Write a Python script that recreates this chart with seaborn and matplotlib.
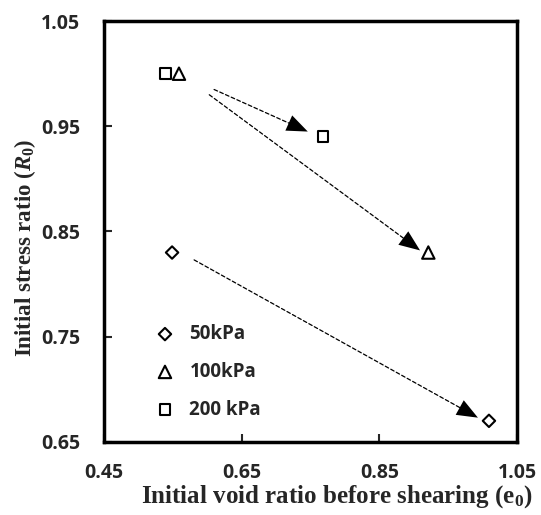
import matplotlib
matplotlib.use('Agg')
import matplotlib.pyplot as plt
import pandas as pd
import seaborn as sns

# e0 / R0 for each confining pressure (first point = before, second = after)
e_50 = [0.549, 1.009]
R_50 = [0.83, 0.67]
e_100 = [0.559, 0.921]
R_100 = [1.00, 0.83]
e_200 = [0.539, 0.768]
R_200 = [1.00, 0.94]

labels = ['50kPa', '100kPa', '200 kPa']

# dashed trend arrows
arrow_start_e = [0.610, 0.603, 0.581]
arrow_start_R = [0.985, 0.980, 0.823]
arrow_end_e = [0.746, 0.909, 0.993]
arrow_end_R = [0.945, 0.832, 0.673]

x_ticks = [0.45, 0.65, 0.85, 1.05]
y_ticks = [0.65, 0.75, 0.85, 0.95, 1.05]

sns.set_style('ticks')
plt.rcParams['font.family'] = ['Open Sans', 'DejaVu Sans']
plt.rcParams['font.weight'] = 'bold'
plt.rcParams['mathtext.fontset'] = 'custom'
plt.rcParams['mathtext.rm'] = 'Liberation Serif:bold'
plt.rcParams['mathtext.it'] = 'Liberation Serif:italic:bold'
plt.rcParams['mathtext.bf'] = 'Liberation Serif:bold'

fig = plt.figure(figsize=(5.41, 5.15), dpi=100)
ax = fig.add_axes([0.192, 0.142, 0.764, 0.817])

df50 = pd.DataFrame({'e0': e_50, 'R0': R_50})
df100 = pd.DataFrame({'e0': e_100, 'R0': R_100})
df200 = pd.DataFrame({'e0': e_200, 'R0': R_200})

sns.scatterplot(data=df50, x='e0', y='R0', marker='D', s=40, facecolor='none',
                edgecolor='black', linewidth=1.5, label=labels[0], ax=ax, legend=False)
sns.scatterplot(data=df100, x='e0', y='R0', marker='^', s=80, facecolor='none',
                edgecolor='black', linewidth=1.5, label=labels[1], ax=ax, legend=False)
sns.scatterplot(data=df200, x='e0', y='R0', marker='s', s=60, facecolor='none',
                edgecolor='black', linewidth=1.5, label=labels[2], ax=ax, legend=False)

for i in range(len(arrow_start_e)):
    # dashed shaft
    ax.annotate('', xy=(arrow_end_e[i], arrow_end_R[i]),
                xytext=(arrow_start_e[i], arrow_start_R[i]),
                arrowprops=dict(arrowstyle='-', color='black', lw=0.9,
                                linestyle=(0, (3, 2)), shrinkA=0, shrinkB=8))
    # solid head
    ax.annotate('', xy=(arrow_end_e[i], arrow_end_R[i]),
                xytext=(arrow_start_e[i], arrow_start_R[i]),
                arrowprops=dict(arrowstyle='-|>,head_length=0.75,head_width=0.3',
                                color='black', lw=0, mutation_scale=20,
                                shrinkA=0, shrinkB=0))

ax.set_xlim(0.45, 1.05)
ax.set_ylim(0.65, 1.05)
ax.set_xticks(x_ticks)
ax.set_yticks(y_ticks)
ax.set_xticklabels([f'{t:.2f}' for t in x_ticks], fontweight='bold')
ax.set_yticklabels([f'{t:.2f}' for t in y_ticks], fontweight='bold')
ax.tick_params(axis='both', direction='in', length=6, width=1.5, labelsize=14)
ax.tick_params(axis='x', pad=15)
ax.tick_params(axis='y', pad=17)
for sp in ax.spines.values():
    sp.set_linewidth(2.5)
    sp.set_color('black')

ax.set_xlabel('Initial void ratio before shearing (e$_0$)', family='Liberation Serif',
              fontweight='bold', fontsize=18, labelpad=0, x=0.564)
ax.set_ylabel(r'Initial stress ratio ($R_0$)', family='Liberation Serif',
              fontweight='bold', fontsize=16.5, labelpad=2, y=0.462)

leg = ax.legend(loc='lower left', bbox_to_anchor=(0.107, 0.035), frameon=False,
                fontsize=13.5, labelspacing=0.95, handlelength=1, handletextpad=0.8,
                borderaxespad=0, borderpad=0.4)
for t in leg.get_texts():
    t.set_fontweight('bold')

fig.savefig('out.png', dpi=100)
